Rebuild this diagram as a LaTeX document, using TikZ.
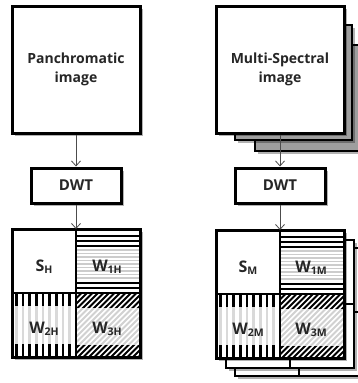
\documentclass[tikz,border=0pt]{standalone}
\usepackage{fontspec}
\setmainfont{Open Sans}
\usetikzlibrary{arrows.meta}

\newcommand\lblsub[2]{#1\raisebox{-2.5pt}{\fontsize{10.5}{10.5}\selectfont #2}}

\tikzset{
  bigbox/.style={draw=black, line width=3pt, fill=white, minimum width=128pt,
    minimum height=127pt, inner sep=0pt, align=center,
    font=\bfseries\fontsize{14}{18.5}\selectfont, text=black!85},
  dwtbox/.style={draw=black, line width=3pt, fill=white, minimum width=90pt,
    minimum height=35pt, inner sep=0pt, font=\bfseries\fontsize{15}{18}\selectfont, text=black!85},
  arr/.style={draw=black!70, line width=0.8pt, -{Straight Barb[length=5pt,width=9pt]}},
  blk/.style={line width=2pt, black},
  blkd/.style={line width=1.9pt, black},
  lgt/.style={line width=1.6pt, black!20},
  lgtd/.style={line width=2pt, black!18},
  blkv/.style={line width=2.6pt, black},
  lgtv/.style={line width=2.6pt, black!15},
  celllabel/.style={anchor=base, inner sep=0pt, font=\bfseries\fontsize{16}{16}\selectfont, text=black!85},
  gridarea/.style={minimum size=128pt, inner sep=0pt, outer sep=0pt},
  backlayer/.style={draw=black, line width=2pt, fill=white},
  backbox/.style={draw=black, line width=2pt, fill=black!38},
  shadowfill/.style={fill=black, opacity=0.3}
}

% horizontal stripes (W1)
\newcommand\hpat[2]{%
  \begin{scope}
    \clip (#1,#2) rectangle ++(64,64);
    \foreach \d in {21,24.5,...,51} \draw[lgt] (#1,#2+\d) -- ++(64,0);
    \foreach \d in {7,12,17,54,59} \draw[blk] (#1,#2+\d) -- ++(64,0);
  \end{scope}}
% vertical stripes (W2)
\newcommand\vpat[2]{%
  \begin{scope}
    \clip (#1,#2) rectangle ++(64,64);
    \foreach \i in {0,...,8} {
      \draw[lgtv] (#1+4.3+6.67*\i,#2+13) -- ++(0,38);
      \draw[blkv] (#1+4.3+6.67*\i,#2) -- ++(0,13);
      \draw[blkv] (#1+4.3+6.67*\i,#2+51) -- ++(0,13);
    }
  \end{scope}}
% diagonal lines helper
\newcommand\dlines[3]{%
  \foreach \i in {0,...,24} \draw[#3] (#1+5.5*\i-64,#2+64) -- ++(64,-64);}
% diagonal hatch (W3)
\newcommand\dpat[2]{%
  \begin{scope}
    \clip (#1,#2+14) rectangle ++(64,38);
    \dlines{#1}{#2}{lgtd}
  \end{scope}
  \begin{scope}
    \clip (#1,#2) rectangle ++(64,14);
    \dlines{#1}{#2}{blkd}
  \end{scope}
  \begin{scope}
    \clip (#1,#2+52) rectangle ++(64,12);
    \dlines{#1}{#2}{blkd}
  \end{scope}}

% full DWT grid: #1,#2 top-left, #3 name suffix, #4 subscript letter
\newcommand\dwtgrid[4]{%
  \fill[shadowfill] (#1+2.5,#2+2.5) rectangle ++(128,128);
  \fill[white] (#1,#2) rectangle ++(128,128);
  \hpat{#1+64}{#2}
  \vpat{#1}{#2+64}
  \dpat{#1+64}{#2+64}
  \draw[line width=2.5pt] (#1+64,#2) -- ++(0,128) (#1,#2+64) -- ++(128,0);
  \draw[line width=3pt] (#1,#2) rectangle ++(128,128);
  \node[gridarea] (grid#3) at (#1+64,#2+64) {};
  \node[celllabel] (s#3)  at (#1+32,#2+42)  {\lblsub{S}{#4}};
  \node[celllabel] (wa#3) at (#1+95,#2+42)  {\lblsub{W}{1#4}};
  \node[celllabel] (wb#3) at (#1+32,#2+104) {\lblsub{W}{2#4}};
  \node[celllabel] (wc#3) at (#1+95,#2+104) {\lblsub{W}{3#4}};
}

\begin{document}
\begin{tikzpicture}[x=1pt,y=-1pt]
  \useasboundingbox (0,0) rectangle (358,383);
  \clip (0,0) rectangle (358,383);

  % ---------- left column ----------
  \fill[shadowfill] (14.5,8.5) rectangle ++(128,127);
  \fill[shadowfill] (33.5,170.5) rectangle ++(90,35);
  \node[bigbox] (pan) at (76,69.5) {Panchromatic\\image};
  \node[dwtbox] (dwtH) at (76,185.5) {DWT};
  \dwtgrid{12}{229}{H}{H}
  \draw[arr] (pan.south) -- (dwtH.north);
  \draw[arr] (dwtH.south) -- (gridH.north);

  % ---------- right column ----------
  \fill[shadowfill] (257.5,47.5) rectangle (369.5,153.5);
  \draw[backbox] (255,45) rectangle (367,151);
  \fill[shadowfill] (237.5,27.5) rectangle (354.5,142.5);
  \draw[backbox] (235,25) rectangle (352,140);
  \fill[shadowfill] (218.5,8.5) rectangle ++(128,127);
  \fill[shadowfill] (237.5,170.5) rectangle ++(90,35);
  \node[bigbox] (ms) at (280,69.5) {Multi-Spectral\\image};
  \node[dwtbox] (dwtM) at (280,185.5) {DWT};

  \foreach \dx/\dy in {19/18,10/10} {
    \fill[shadowfill] (216+\dx+2.5,230+\dy+2.5) rectangle ++(128,128);
    \draw[backlayer] (216+\dx,230+\dy) rectangle ++(128,128);
    \draw[line width=2pt] (216+\dx+64,230+\dy) -- ++(0,128)
                          (216+\dx,230+\dy+64) -- ++(128,0);
  }
  \dwtgrid{216}{230}{M}{M}
  \draw[arr] (ms.south) -- (dwtM.north);
  \draw[arr] (dwtM.south) -- (gridM.north);
\end{tikzpicture}
\end{document}
